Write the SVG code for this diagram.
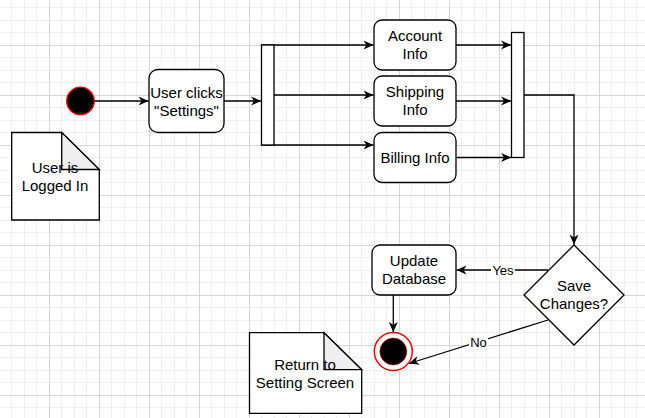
<svg xmlns="http://www.w3.org/2000/svg" width="645" height="418" viewBox="0 0 645 418">
<defs>
  <pattern id="grid" patternUnits="userSpaceOnUse" x="49" y="45" width="50" height="50">
    <rect x="12" y="0" width="1" height="50" fill="#efefef"/>
    <rect x="25" y="0" width="1" height="50" fill="#efefef"/>
    <rect x="37" y="0" width="1" height="50" fill="#efefef"/>
    <rect x="0" y="12" width="50" height="1" fill="#efefef"/>
    <rect x="0" y="25" width="50" height="1" fill="#efefef"/>
    <rect x="0" y="37" width="50" height="1" fill="#efefef"/>
    <rect x="0" y="0" width="1" height="50" fill="#d6d6d6"/>
    <rect x="0" y="0" width="50" height="1" fill="#d6d6d6"/>
  </pattern>
  <marker id="arr" markerUnits="userSpaceOnUse" markerWidth="12" markerHeight="12" refX="10" refY="5" orient="auto">
    <path d="M0,0.5 L10,5 L0,9.5 L3,5 Z" fill="#000"/>
  </marker>
  <style>
    .box{fill:#fff;stroke:#000;stroke-width:1.3}
    .bar{fill:#fff;stroke:#000;stroke-width:1.3}
    .note{fill:#fff;stroke:#000;stroke-width:1.3}
    .fold{fill:#efefef;stroke:#000;stroke-width:1.3}
    .edge{fill:none;stroke:#000;stroke-width:1.3;marker-end:url(#arr)}
    .line{fill:none;stroke:#000;stroke-width:1.3}
    text{font-family:"Liberation Sans",Arial,sans-serif;font-size:15px;fill:#000;text-anchor:middle}
    .lbl{font-size:13px}
  </style>
</defs>
<rect x="0" y="0" width="645" height="418" fill="#fff"/>
<rect x="0" y="0" width="645" height="418" fill="url(#grid)"/>

<g id="connectors">
  <path class="edge" d="M94.5,101 H148.5"/>
  <path class="edge" d="M224,101 H261"/>
  <path class="edge" d="M261.5,45 H373.5"/>
  <path class="edge" d="M274,95 H373.5"/>
  <path class="edge" d="M261.5,145 H373.5"/>
  <path class="edge" d="M456,45 H511"/>
  <path class="edge" d="M456,101 H511"/>
  <path class="edge" d="M456,157.5 H511"/>
  <path class="edge" d="M524,95 H574 V244.5"/>
  <path class="edge" d="M548,270 H456.5"/>
  <path class="edge" d="M393.3,295 V332"/>
  <path class="edge" d="M548,320 L409,363.5"/>
  <g id="label-yes">
    <rect x="491" y="262" width="24" height="15" fill="#fff"/>
    <text class="lbl" x="503" y="274.5">Yes</text>
  </g>
  <g id="label-no">
    <rect x="469" y="334" width="19" height="15" fill="#fff"/>
    <text class="lbl" x="478.5" y="346.5">No</text>
  </g>
</g>

<g id="start">
  <circle cx="80.5" cy="101" r="13.8" fill="#000" stroke="#ff0000" stroke-width="1.3"/>
</g>

<g id="note-logged-in">
  <path class="note" d="M11.7,132.5 H61.7 L99.3,169.5 V220 H11.7 Z"/>
  <path class="fold" d="M61.7,132.5 V169.5 H99.3 Z"/>
  <text x="55" y="172.5">User is</text>
  <text x="55" y="191">Logged In</text>
</g>

<g id="user-clicks">
  <rect class="box" x="149" y="69.5" width="75" height="63" rx="9"/>
  <text x="186.5" y="97.5">User clicks</text>
  <text x="186.5" y="115.5">"Settings"</text>
</g>

<g id="fork">
  <rect class="bar" x="261.5" y="45" width="12.5" height="100"/>
</g>

<g id="account-info">
  <rect class="box" x="374" y="20" width="82" height="50" rx="8"/>
  <text x="415" y="41">Account</text>
  <text x="415" y="59">Info</text>
</g>

<g id="shipping-info">
  <rect class="box" x="374" y="76" width="82" height="50" rx="8"/>
  <text x="415" y="97">Shipping</text>
  <text x="415" y="115">Info</text>
</g>

<g id="billing-info">
  <rect class="box" x="374" y="132.5" width="82" height="50" rx="8"/>
  <text x="415" y="163">Billing Info</text>
</g>

<g id="join">
  <rect class="bar" x="511.5" y="32.5" width="12.5" height="125"/>
</g>

<g id="save-changes">
  <path class="box" d="M574,245 L624,295 L574,345 L524,295 Z"/>
  <text x="574" y="291">Save</text>
  <text x="574" y="309">Changes?</text>
</g>

<g id="update-database">
  <rect class="box" x="372" y="245" width="84" height="50" rx="8"/>
  <text x="414" y="266">Update</text>
  <text x="414" y="284">Database</text>
</g>

<g id="end">
  <circle cx="393.3" cy="351.5" r="19" fill="#fff" stroke="#ff0000" stroke-width="1.5"/>
  <circle cx="393.3" cy="351.5" r="13.5" fill="#000" stroke="#ff0000" stroke-width="0.6"/>
</g>

<g id="note-return">
  <path class="note" d="M249.5,332.7 H324 L361.7,369.7 V413.3 H249.5 Z"/>
  <path class="fold" d="M324,332.7 V369.7 H361.7 Z"/>
  <text x="305" y="369.5">Return to</text>
  <text x="305" y="387.5">Setting Screen</text>
</g>
</svg>
